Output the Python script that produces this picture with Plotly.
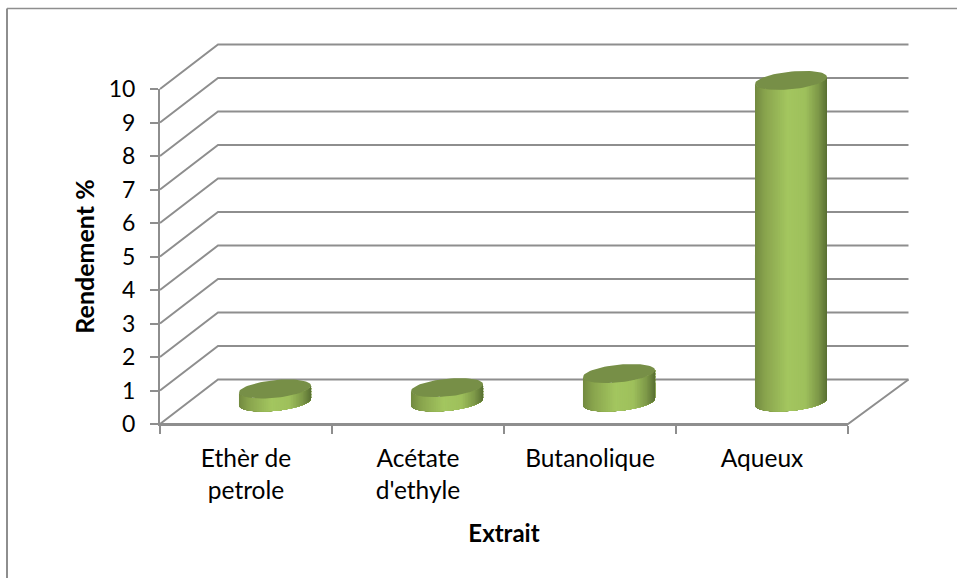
import math
import plotly.graph_objects as go

# ---- data ----
categories = ["Ethèr de<br>petrole", "Acétate<br>d'ethyle", "Butanolique", "Aqueux"]
rendement = [0.39, 0.43, 0.85, 9.6]
y_ticks = list(range(0, 11))

W, H = 957, 578
PX_L, PX_R, PX_B, PX_T = 160, 848, 424, 89
ux = (PX_R - PX_L) / 4        # px per category
uy = (PX_B - PX_T) / 10       # px per unit

GRID = "#8e8e8e"
DEPTH_L = 58 / ux
DEPTH_R = 60.5 / ux
DEPTH_Y = 44.5 / uy
PAD_X = 4 / ux
PAD_Y = 3 / uy

fig = go.Figure()

# every drawn mark lives on a second, wider pair of axes with the same scale
common = dict(xaxis="x2", yaxis="y2", mode="lines", hoverinfo="skip", showlegend=False)

gx, gy = [], []
for v in y_ticks:
    gx += [0, DEPTH_L, 4 + DEPTH_R, None]
    gy += [v, v + DEPTH_Y, v + DEPTH_Y, None]
gx += [0, 4, 4 + DEPTH_R]
gy += [0, 0, DEPTH_Y]
fig.add_trace(go.Scatter(x=gx, y=gy, line=dict(color=GRID, width=2), **common))

# cylinders
A = 33.6 / ux
SKX = 13 / ux
SKY = 9.5 / uy
HALF_W = math.hypot(A, SKX)
TH = math.atan2(SKX, A)
BASE_Y = 22 / uy
BASE_DX = 29 / ux

STOPS = [(0.0, (115, 138, 65)), (0.15, (138, 165, 78)), (0.45, (163, 198, 95)),
         (0.7, (158, 192, 92)), (0.88, (125, 152, 72)), (1.0, (90, 112, 52))]
def col(f):
    for (a, ca), (b, cb) in zip(STOPS, STOPS[1:]):
        if f <= b:
            k = (f - a) / (b - a)
            return "rgb(%d,%d,%d)" % tuple(round(p + (q - p) * k) for p, q in zip(ca, cb))
    return "rgb(%d,%d,%d)" % STOPS[-1][1]

def ell(cx, cy, t):
    return cx + A * math.cos(t) + SKX * math.sin(t), cy + SKY * math.sin(t)

N = 60
T0 = math.pi + TH
for i in range(N):
    # painted left to right: each strip reaches the right edge, the next one covers it
    X, Y = [], []
    ts = [T0 + math.pi * j / N for j in range(i, N + 1)]
    for k, v in enumerate(rendement):
        cx = k + 0.5 + BASE_DX
        low = [ell(cx, BASE_Y, t) for t in ts]
        X += [p[0] for p in low] + [p[0] for p in reversed(low)] + [low[0][0], None]
        Y += [p[1] for p in low] + [p[1] + v for p in reversed(low)] + [low[0][1], None]
    tm = T0 + math.pi * (i + 0.5) / N
    frac = (A * math.cos(tm) + SKX * math.sin(tm) + HALF_W) / (2 * HALF_W)
    fig.add_trace(go.Scatter(x=X, y=Y, fill="toself", fillcolor=col(frac), line=dict(width=0), **common))

tops_x, tops_y = [], []
for k, v in enumerate(rendement):
    for j in range(73):
        x, y = ell(k + 0.5 + BASE_DX, BASE_Y + v, 2 * math.pi * j / 72)
        tops_x.append(x)
        tops_y.append(y)
    tops_x.append(None)
    tops_y.append(None)
fig.add_trace(go.Scatter(x=tops_x, y=tops_y, fill="toself", fillcolor="#778f47", line=dict(width=0), **common))

# value carrier on the visible axes
fig.add_trace(go.Scatter(x=[i + 0.5 for i in range(4)], y=rendement, mode="markers",
                         marker=dict(opacity=0), showlegend=False,
                         customdata=categories, hovertemplate="%{y}<extra></extra>"))

FONT = "Lato"
fig.update_layout(
    width=W, height=H, autosize=False,
    margin=dict(l=0, r=0, t=0, b=0, pad=0, autoexpand=False),
    paper_bgcolor="white", plot_bgcolor="rgba(0,0,0,0)",
    font=dict(family=FONT, color="black"),
    showlegend=False,
    xaxis=dict(domain=[PX_L / W, PX_R / W], range=[0, 4], anchor="y", automargin=False,
               tickvals=[i + 0.5 for i in range(4)], ticktext=categories,
               ticks="", tickfont=dict(size=24.5, family=FONT), showgrid=False, zeroline=False,
               ticklabelstandoff=12,
               showline=True, linecolor=GRID, linewidth=2,
               minor=dict(tickvals=list(range(5)), ticks="outside", ticklen=8, tickcolor=GRID, tickwidth=2),
               title=dict(text="<b>Extrait</b>", font=dict(size=24, family=FONT), standoff=22)),
    yaxis=dict(domain=[(H - PX_B) / H, (H - PX_T) / H], range=[0, 10], anchor="x", automargin=False,
               tickvals=y_ticks, ticks="outside", ticklen=8, tickcolor=GRID, tickwidth=2,
               tickfont=dict(size=23, family=FONT), showgrid=False, zeroline=False,
               ticklabelstandoff=10,
               showline=True, linecolor=GRID, linewidth=2,
               title=dict(text="<b>Rendement %</b>", font=dict(size=25, family=FONT), standoff=7)),
    xaxis2=dict(domain=[(PX_L - PAD_X * ux) / W, (PX_R + (DEPTH_R + PAD_X) * ux) / W],
                range=[-PAD_X, 4 + DEPTH_R + PAD_X], anchor="y2", visible=False),
    yaxis2=dict(domain=[(H - PX_B - PAD_Y * uy) / H, (H - PX_T + (DEPTH_Y + PAD_Y) * uy) / H],
                range=[-PAD_Y, 10 + DEPTH_Y + PAD_Y], anchor="x2", visible=False),
    shapes=[dict(type="line", xref="paper", yref="paper", x0=7 / W, x1=1, y0=1 - 8.5 / H, y1=1 - 8.5 / H,
                 line=dict(color="#8e8e8e", width=1.5), layer="below"),
            dict(type="line", xref="paper", yref="paper", x0=7 / W, x1=7 / W, y0=0, y1=1 - 8.5 / H,
                 line=dict(color="#8e8e8e", width=2), layer="below")],
)
fig.write_html("out.html", config=dict(displayModeBar=False),
               post_script="document.body.style.margin='0';document.body.style.overflow='hidden';")
